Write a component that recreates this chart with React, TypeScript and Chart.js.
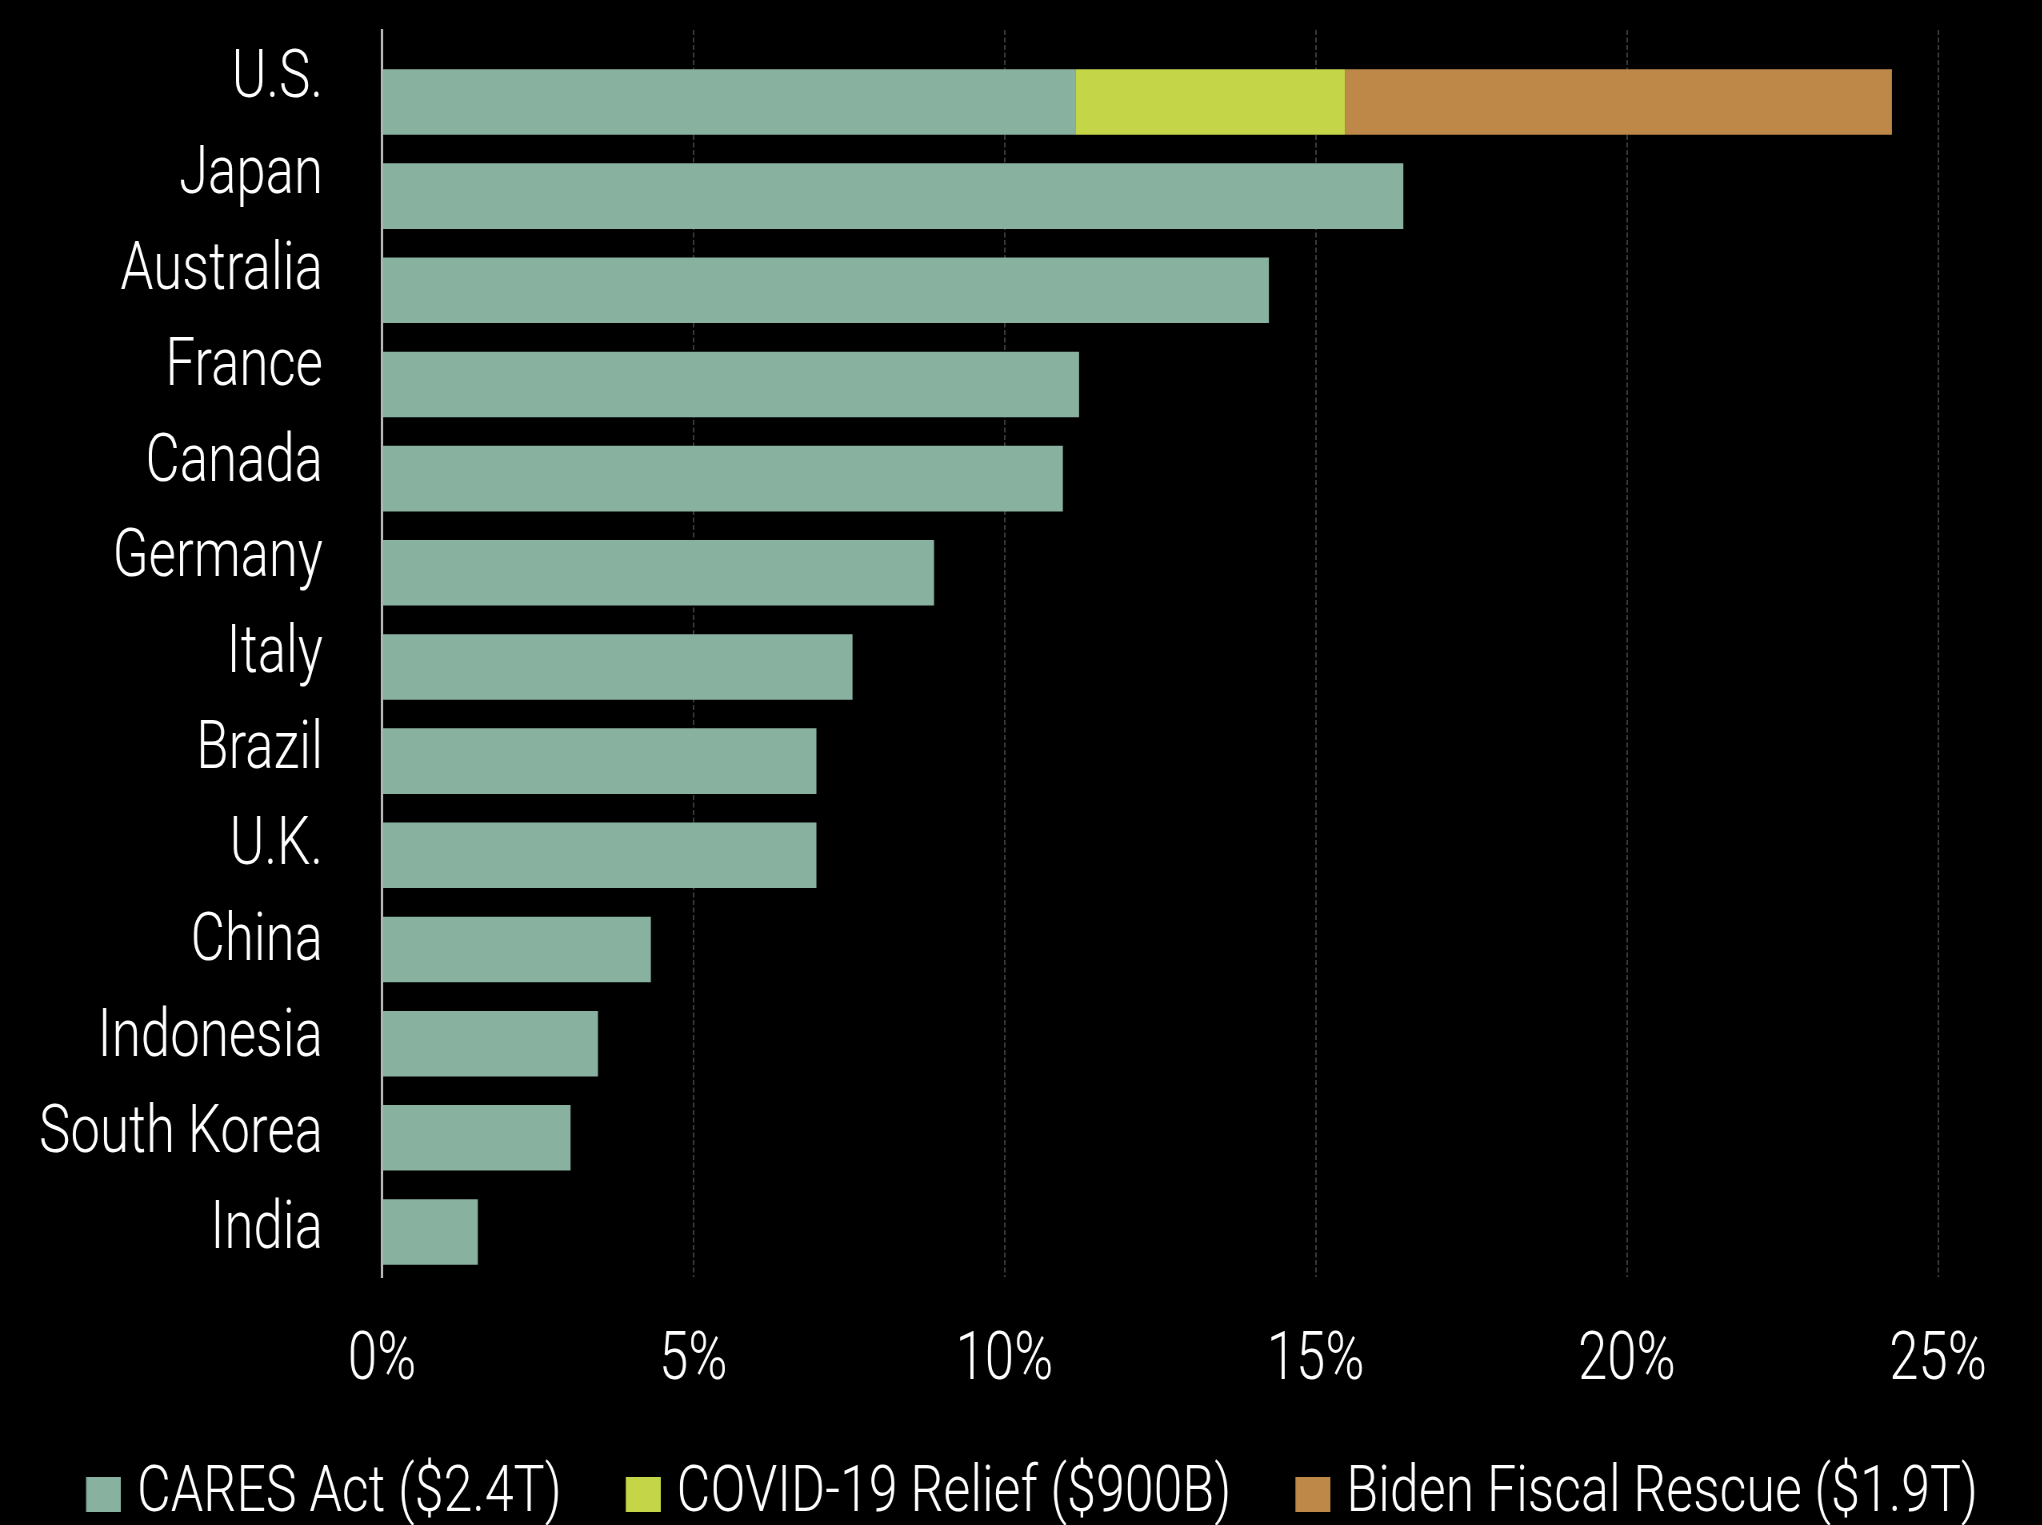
import React, { useEffect, useRef } from 'react';
import { Chart, registerables } from 'chart.js';

Chart.register(...registerables);

// ---- data ----
const categories = [
  'U.S.', 'Japan', 'Australia', 'France', 'Canada', 'Germany', 'Italy',
  'Brazil', 'U.K.', 'China', 'Indonesia', 'South Korea', 'India',
];
const caresAct = [11.15, 16.41, 14.25, 11.2, 10.94, 8.87, 7.56, 6.98, 6.98, 4.32, 3.47, 3.03, 1.54];
const covidRelief = [4.32, null, null, null, null, null, null, null, null, null, null, null, null];
const bidenRescue = [8.79, null, null, null, null, null, null, null, null, null, null, null, null];
const seriesNames = ['CARES Act ($2.4T)', 'COVID-19 Relief ($900B)', 'Biden Fiscal Rescue ($1.9T)'];
const seriesColors = ['#88b1a0', '#c4d647', '#be8848'];
const xMin = 0;
const xMax = 25;
const xStep = 5;

// ---- presentation ----
const FONT = 'Roboto, "Liberation Sans", sans-serif';
const WEIGHT = '300';
const S = 0.8; // horizontal compression to emulate a condensed typeface
const CANVAS_W = 2800;
const CHART_TOP = 30;
const CHART_BOTTOM = 1277;
const CHART_LEFT = 382; // px on screen
const CHART_RIGHT = 1938;
const LEG_FONT = 65;
const LEG_PAD = 54 / S;
const BOX = 35 / S;
const GAP = 16 / S;
const LEG_ITEM_Y = 1462;
const LEG_BOX_LEFT = 86;
const PAD_LEFT = LEG_BOX_LEFT / S - (LEG_FONT / 2 - GAP) - LEG_PAD;
const LEG_TOP = LEG_ITEM_Y - LEG_PAD;
const LEG_H = LEG_FONT + LEG_PAD + 10;
const CANVAS_H = Math.round(LEG_TOP + LEG_H);
const X_AXIS_H = LEG_TOP - CHART_BOTTOM - (LEG_TOP + LEG_H - CANVAS_H);

function makeBoxImage(color: string): HTMLCanvasElement {
  const w = Math.round(BOX + LEG_FONT - 2 * GAP);
  const c = document.createElement('canvas');
  c.width = w;
  c.height = 35;
  const g = c.getContext('2d');
  if (g) {
    g.fillStyle = color;
    g.fillRect(w - BOX, 0, BOX, 35);
  }
  return c;
}

export default function App() {
  const ref = useRef<HTMLCanvasElement | null>(null);

  useEffect(() => {
    const canvas = ref.current;
    if (!canvas) return;
    const boxImages = seriesColors.map(makeBoxImage);
    const ds = (i: number, data: (number | null)[]) => ({
      label: seriesNames[i],
      data,
      backgroundColor: seriesColors[i],
      yAxisID: 'y2',
      stack: 's',
      borderWidth: 0,
      barPercentage: 0.696,
      categoryPercentage: 1,
    });
    const chart = new Chart(canvas, {
      type: 'bar',
      data: {
        labels: categories,
        datasets: [ds(0, caresAct), ds(1, covidRelief), ds(2, bidenRescue)],
      },
      options: {
        indexAxis: 'y',
        responsive: false,
        animation: false,
        devicePixelRatio: 1,
        events: [],
        layout: { padding: { left: PAD_LEFT, top: CHART_TOP, right: 0, bottom: 0 } },
        plugins: {
          tooltip: { enabled: false },
          legend: {
            position: 'bottom',
            align: 'start',
            labels: {
              color: '#ffffff',
              font: { family: FONT, size: LEG_FONT, weight: WEIGHT },
              boxWidth: BOX,
              boxHeight: 35,
              padding: LEG_PAD,
              usePointStyle: true,
              generateLabels: (c: any) => {
                const items = Chart.defaults.plugins.legend.labels.generateLabels(c);
                items.forEach((it: any, i: number) => {
                  it.pointStyle = boxImages[i];
                });
                return items;
              },
            },
          },
        },
        scales: {
          x: {
            type: 'linear',
            stacked: true,
            min: xMin,
            max: xMax,
            ticks: {
              stepSize: xStep,
              color: '#ffffff',
              font: { family: FONT, size: 66, weight: WEIGHT },
              padding: 46,
              maxRotation: 0,
              minRotation: 0,
              callback: (v: any) => `${v}%`,
            },
            grid: {
              color: (ctx: any) => (ctx.tick && ctx.tick.value === 0 ? 'rgba(0,0,0,0)' : '#3a3a3a'),
              lineWidth: 2,
              drawTicks: false,
            },
            border: { display: false, dash: [5, 2.5] },
            afterFit: (s: any) => {
              s.height = X_AXIS_H;
              s.paddingLeft = 0;
              s.paddingRight = CANVAS_W - CHART_RIGHT / S;
            },
          },
          y: {
            type: 'category',
            labels: categories,
            offset: true,
            grid: { display: false, drawTicks: false },
            border: { display: true, color: '#b8b8b8', width: 3 },
            ticks: {
              color: '#ffffff',
              font: { family: FONT, size: 66, weight: WEIGHT },
              padding: 59 / S,
              autoSkip: false,
            },
            afterBuildTicks: (s: any) => {
              s._startValue = -0.525;
              s._valueRange = 13;
            },
            afterFit: (s: any) => {
              s.width = CHART_LEFT / S - PAD_LEFT;
              s.paddingTop = 0;
              s.paddingBottom = 0;
            },
          },
          y2: {
            type: 'category',
            axis: 'y',
            labels: categories,
            offset: true,
            stacked: true,
            display: false,
            afterBuildTicks: (s: any) => {
              s._startValue = -0.764;
              s._valueRange = 13.242;
            },
          },
        },
      } as any,
    });
    return () => chart.destroy();
  }, []);

  return (
    <div
      style={{
        position: 'fixed',
        left: 0,
        top: 0,
        width: '2042px',
        height: '1525px',
        overflow: 'hidden',
        background: '#000000',
      }}
    >
      <canvas
        ref={ref}
        width={CANVAS_W}
        height={CANVAS_H}
        style={{ width: `${CANVAS_W * S}px`, height: `${CANVAS_H}px`, display: 'block' }}
      />
    </div>
  );
}
